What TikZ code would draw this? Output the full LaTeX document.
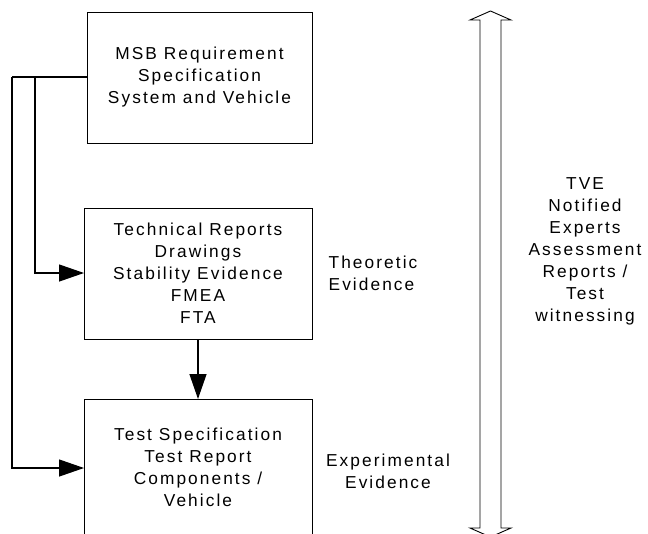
\documentclass[tikz,border=0pt]{standalone}
\usepackage{fontspec}
\setmainfont{Liberation Sans}[LetterSpace=12]
\usetikzlibrary{arrows.meta}
\begin{document}
\begin{tikzpicture}[x=1pt,y=-1pt,
  txt/.style={align=center,font=\fontsize{17.3}{22}\selectfont,inner sep=0pt},
  boxline/.style={draw,line width=1pt},
  conn/.style={line width=1.3pt,-{Triangle[length=25pt,width=17pt]}},
  plain/.style={line width=1.3pt}]
\useasboundingbox (0,0) rectangle (648,533);
% boxes
\draw[boxline] (87,12) rectangle (312,143);
\draw[boxline] (84,208) rectangle (312,339);
\draw[boxline] (84,399) rectangle (312,536);
\node[txt] (b1) at (199.5,77.5) {MSB Requirement\\Specification\\System and Vehicle};
\node[txt] (b2) at (198,273) {Technical Reports\\Drawings\\Stability Evidence\\FMEA\\FTA};
\node[txt] (b3) at (198,467) {Test Specification\\Test Report\\Components /\\Vehicle};
\coordinate (b1w) at (87,77);
\coordinate (b2w) at (84,273);
\coordinate (b3w) at (84,468);
\coordinate (b2s) at (198,339);
\coordinate (b3n) at (198,399);
\coordinate (j1) at (35,77);
\coordinate (j2) at (12,77);
% connectors
\draw[plain] (b1w) -- (j2);
\draw[conn] (j1) |- (b2w);
\draw[conn] (j2) |- (b3w);
\draw[conn] (b2s) -- (b3n);
% side labels
\node[txt,align=left] (th) at (373,273) {Theoretic\\Evidence};
\node[txt] (ex) at (388,471) {Experimental\\Evidence};
\node[txt] (tve) at (585,251) {TVE\\Notified\\Experts\\Assessment\\Reports /\\Test\\witnessing};
% double arrow
\draw[line width=0.9pt,line join=miter]
  (480,20) -- (470,20) -- (490.5,11) -- (511,20) -- (501,20)
  -- (501,528) -- (511,528) -- (490.5,537) -- (470,528) -- (480,528) -- cycle;
\end{tikzpicture}
\end{document}
